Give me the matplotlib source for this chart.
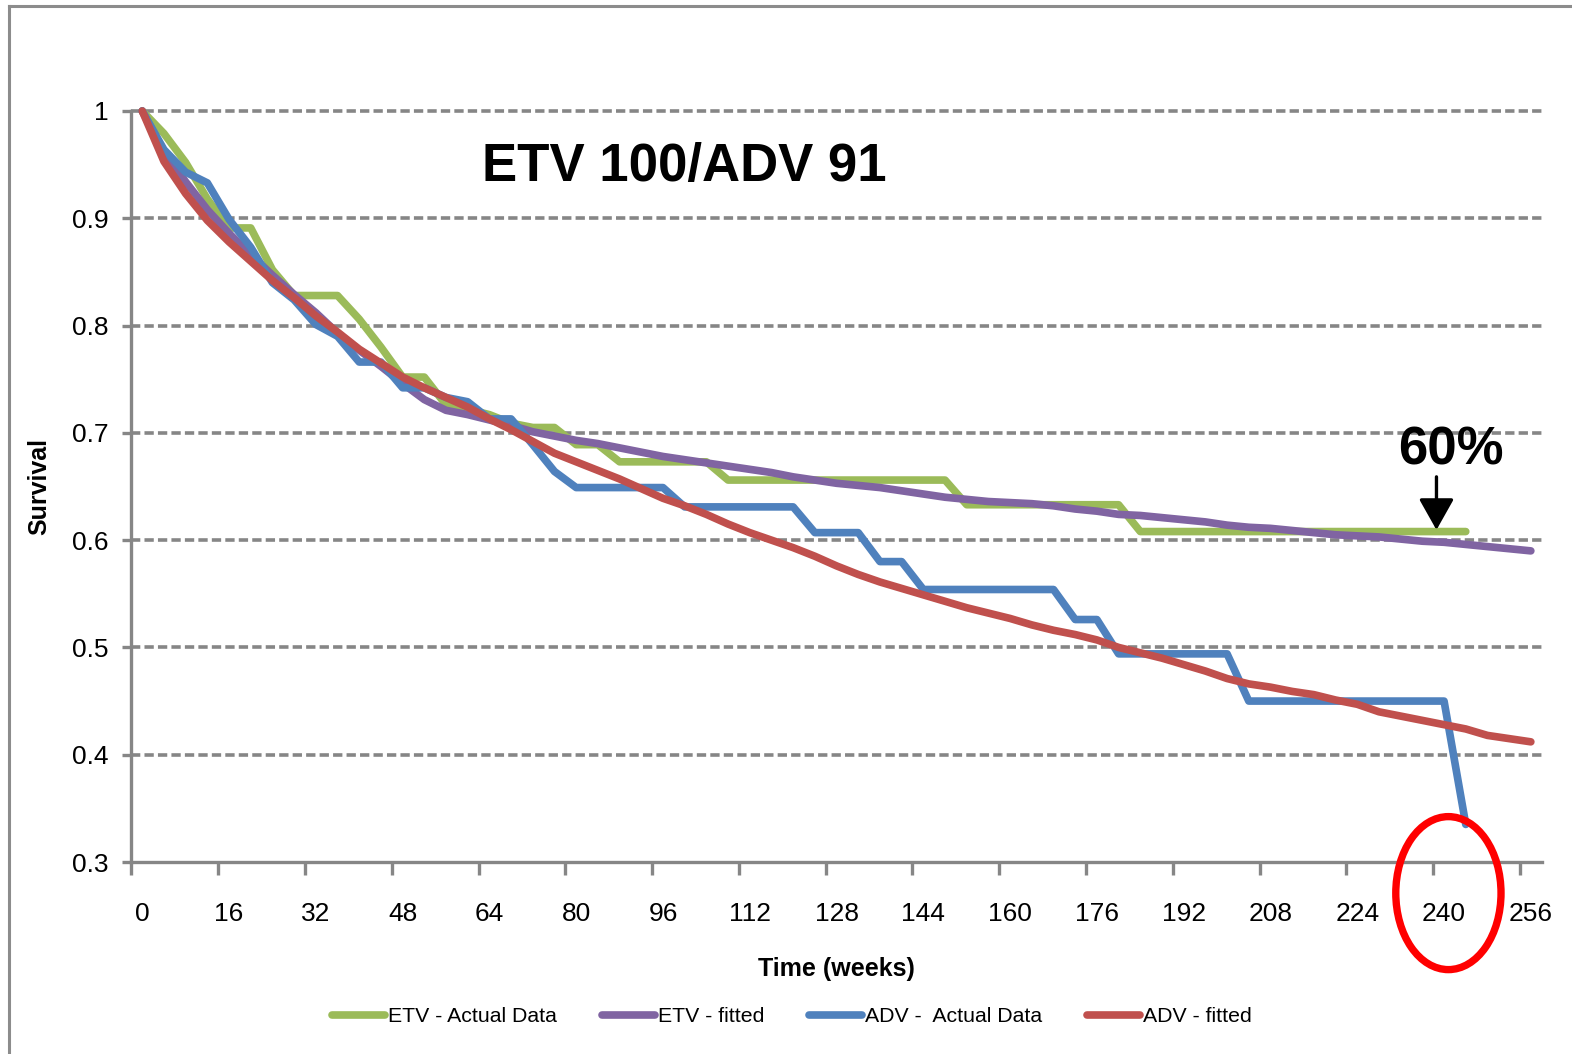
import numpy as np
import matplotlib
matplotlib.use('Agg')
import matplotlib.pyplot as plt
from matplotlib.lines import Line2D
from matplotlib.patches import Ellipse

# Survival read every 4 weeks
weeks_fitted = list(range(0, 257, 4))
weeks_actual = list(range(0, 245, 4))

etv_actual = [1.000, 0.979, 0.952, 0.918, 0.891, 0.891, 0.852, 0.828, 0.828, 0.828,
              0.806, 0.780, 0.752, 0.752, 0.726, 0.722, 0.717, 0.709, 0.705, 0.705,
              0.689, 0.689, 0.673, 0.673, 0.673, 0.673, 0.673,
              0.656, 0.656, 0.656, 0.656, 0.656, 0.656, 0.656, 0.656, 0.656, 0.656, 0.656,
              0.633, 0.633, 0.633, 0.633, 0.633, 0.633, 0.633, 0.633,
              0.608, 0.608, 0.608, 0.608, 0.608, 0.608, 0.608, 0.608,
              0.608, 0.608, 0.608, 0.608, 0.608, 0.608, 0.608, 0.608]

etv_fitted = [1.000, 0.962, 0.934, 0.908, 0.886, 0.866, 0.847, 0.829, 0.812, 0.793,
              0.777, 0.762, 0.746, 0.731, 0.721, 0.717, 0.712, 0.707, 0.701, 0.697,
              0.693, 0.690, 0.686, 0.682, 0.678, 0.675, 0.672, 0.669, 0.666, 0.663,
              0.659, 0.656, 0.653, 0.651, 0.649, 0.646, 0.643, 0.640, 0.638, 0.636,
              0.635, 0.634, 0.632, 0.629, 0.627, 0.624, 0.623, 0.621, 0.619, 0.617,
              0.614, 0.612, 0.611, 0.609, 0.607, 0.605, 0.604, 0.603, 0.601, 0.599,
              0.598, 0.596, 0.594, 0.592, 0.590]

adv_actual = [1.000, 0.964, 0.943, 0.933, 0.899, 0.873, 0.840, 0.824, 0.801, 0.790,
              0.766, 0.766, 0.742, 0.742, 0.733, 0.729, 0.713, 0.713, 0.689, 0.664,
              0.649, 0.649, 0.649, 0.649, 0.649,
              0.631, 0.631, 0.631, 0.631, 0.631, 0.631,
              0.607, 0.607, 0.607,
              0.580, 0.580,
              0.554, 0.554, 0.554, 0.554, 0.554, 0.554, 0.554,
              0.526, 0.526,
              0.494, 0.494, 0.494, 0.494, 0.494, 0.494,
              0.450, 0.450, 0.450, 0.450, 0.450, 0.450, 0.450, 0.450, 0.450, 0.450,
              0.335]

adv_fitted = [1.000, 0.953, 0.923, 0.898, 0.878, 0.860, 0.842, 0.826, 0.809, 0.794,
              0.778, 0.765, 0.752, 0.742, 0.733, 0.724, 0.713, 0.703, 0.692, 0.681,
              0.673, 0.665, 0.657, 0.648, 0.639, 0.632, 0.624, 0.615, 0.607, 0.600,
              0.593, 0.585, 0.576, 0.568, 0.561, 0.555, 0.549, 0.543, 0.537, 0.532,
              0.527, 0.521, 0.516, 0.512, 0.507, 0.500, 0.495, 0.490, 0.484, 0.478,
              0.471, 0.466, 0.463, 0.459, 0.456, 0.451, 0.447, 0.440, 0.436, 0.432,
              0.428, 0.424, 0.418, 0.415, 0.412]

series_names = ['ETV - Actual Data', 'ETV - fitted', 'ADV -  Actual Data', 'ADV - fitted']
series_colors = ['#9BBB59', '#8064A2', '#4F81BD', '#C0504D']

x_labels = list(range(0, 257, 16))
y_ticks = [0.3, 0.4, 0.5, 0.6, 0.7, 0.8, 0.9, 1.0]
y_labels = ['0.3', '0.4', '0.5', '0.6', '0.7', '0.8', '0.9', '1']

# callouts
note_week = 238.6
note_top, note_tip = 0.659, 0.6095
circle_week, circle_y = 240.8, 0.271


def main():
    plt.rcParams['font.family'] = ['Liberation Sans', 'DejaVu Sans']
    plt.rcParams['lines.scale_dashes'] = False
    gray = '#868686'

    W, H = 1572, 1054
    fig = plt.figure(figsize=(W / 100, H / 100), dpi=100)
    ax = fig.add_axes([131.4 / W, 1 - 862 / H, (1541.7 - 131.4) / W, (862 - 111) / H])

    # chart area frame
    fig.add_artist(Line2D([9 / W, 9 / W], [0, 1 - 6 / H], color='#8c8c8c', lw=2.2))
    fig.add_artist(Line2D([9 / W, 1], [1 - 6 / H, 1 - 6 / H], color='#8c8c8c', lw=2.2))

    # dashed gridlines above the x axis only
    ax.hlines(y_ticks[1:], -2, 258, colors=gray, lw=2.6,
              linestyles=[(0, (6.7, 3.0))], zorder=1, clip_on=False)

    data = [(weeks_actual, etv_actual), (weeks_fitted, etv_fitted),
            (weeks_actual, adv_actual), (weeks_fitted, adv_fitted)]
    for (x, y), name, c in zip(data, series_names, series_colors):
        ax.plot(x, y, color=c, lw=5.5, label=name, solid_capstyle='round',
                solid_joinstyle='round', zorder=3, clip_on=False)

    ax.set_xlim(-2, 258)
    ax.set_ylim(0.3, 1.0)

    for s in ['top', 'right']:
        ax.spines[s].set_visible(False)
    for s in ['left', 'bottom']:
        ax.spines[s].set_color(gray)
        ax.spines[s].set_linewidth(2.4)

    ax.set_yticks(y_ticks)
    ax.set_yticklabels(y_labels)
    ax.tick_params(axis='y', length=6.5, width=2.4, color=gray, pad=10, labelsize=19)

    ax.set_xticks(np.arange(-2, 255, 16))
    ax.set_xticklabels([])
    ax.set_xticks(x_labels, minor=True)
    ax.set_xticklabels([str(v) for v in x_labels], minor=True)
    ax.tick_params(axis='x', which='major', length=9, width=2.4, color=gray)
    ax.tick_params(axis='x', which='minor', length=0, pad=29, labelsize=19)

    ax.set_xlabel('Time (weeks)', fontsize=18, fontweight='bold', labelpad=22)
    ax.set_ylabel('Survival', fontsize=18, fontweight='bold', labelpad=15)

    fig.text(684 / W, 1 - 167 / H, 'ETV 100/ADV 91', fontsize=38, fontweight='bold',
             ha='center', va='center')
    ax.text(note_week + 2.7, 0.643 + 0.041, '60%', fontsize=38, fontweight='bold',
            ha='center', va='center')
    ax.annotate('', xy=(note_week, note_tip), xytext=(note_week, note_top),
                arrowprops=dict(arrowstyle='-|>,head_length=0.8,head_width=0.45',
                                mutation_scale=24, lw=2.4, color='black',
                                shrinkA=0, shrinkB=0), zorder=5)

    ax.add_patch(Ellipse((circle_week, circle_y), 19.4, 0.1426, fill=False,
                         edgecolor='#FF0000', lw=5.3, clip_on=False, zorder=6))

    fig.legend(loc='center', bbox_to_anchor=(792 / W, 37 / H), ncol=4, frameon=False,
               fontsize=15.3, handlelength=2.5, handletextpad=0.15, columnspacing=2.1,
               borderpad=0)

    fig.savefig('out.png', dpi=100)


if __name__ == "__main__":
    main()
